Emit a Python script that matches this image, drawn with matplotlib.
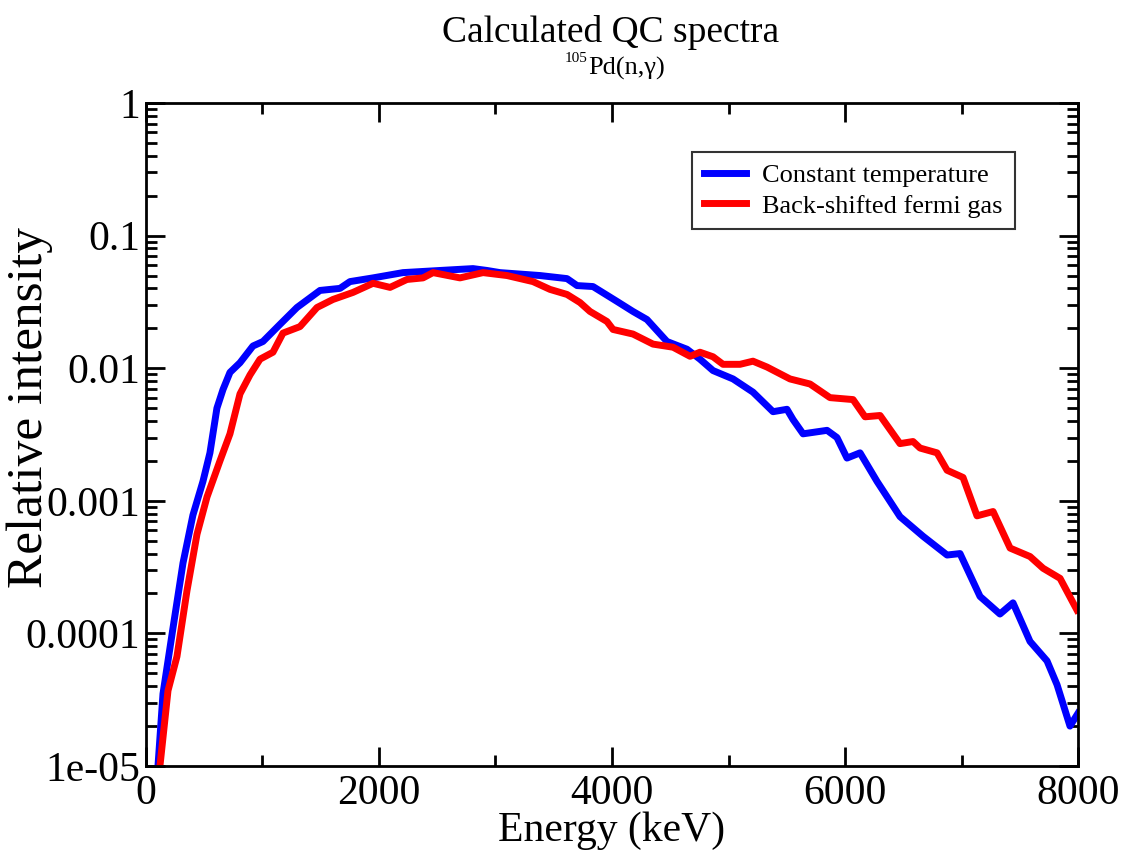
import numpy as np
import matplotlib
matplotlib.use('Agg')
import matplotlib.pyplot as plt
from matplotlib.ticker import FixedLocator, NullFormatter

plt.rcParams['font.family'] = ['Liberation Serif', 'DejaVu Serif']

# Constant temperature level density
ct_energy = [103, 146, 232, 318, 403, 489, 549, 609, 661, 721, 807, 918, 1004, 1150,
             1296, 1494, 1665, 1751, 1949, 2206, 2524, 2807, 2927, 3039, 3382, 3614,
             3700, 3837, 4043, 4180, 4300, 4472, 4644, 4755, 4867, 5039, 5210, 5331,
             5382, 5502, 5554, 5640, 5846, 5931, 6017, 6129, 6275, 6472, 6670, 6876,
             6987, 7159, 7330, 7442, 7588, 7734, 7820, 7931, 8000]
ct_intensity = [1.0e-5, 3.5e-5, 1.1e-4, 3.4e-4, 7.8e-4, 1.4e-3, 2.3e-3, 5.0e-3, 6.9e-3,
                9.3e-3, 0.011, 0.0147, 0.0159, 0.0214, 0.0287, 0.0386, 0.040, 0.045,
                0.048, 0.0526, 0.0546, 0.0564, 0.0546, 0.0526, 0.050, 0.0474, 0.042,
                0.0413, 0.0319, 0.0268, 0.0233, 0.0159, 0.0139, 0.0117, 0.0096, 0.0083,
                0.0066, 0.0052, 0.0047, 0.0049, 0.0041, 0.0032, 0.0034, 0.0030, 0.0021,
                0.0023, 0.0014, 7.6e-4, 5.4e-4, 3.9e-4, 4.0e-4, 1.9e-4, 1.4e-4, 1.7e-4,
                8.7e-5, 6.2e-5, 4.1e-5, 2.0e-5, 2.5e-5]

# Back-shifted fermi gas level density
bsfg_energy = [120, 189, 266, 352, 438, 524, 635, 721, 807, 893, 979, 1090, 1176, 1322,
               1468, 1605, 1777, 1949, 2095, 2240, 2378, 2464, 2695, 2893, 3099, 3322,
               3468, 3614, 3725, 3811, 3957, 4009, 4180, 4352, 4524, 4670, 4755, 4867,
               4953, 5099, 5210, 5331, 5528, 5700, 5871, 6069, 6172, 6301, 6472, 6584,
               6644, 6790, 6876, 7013, 7133, 7271, 7417, 7588, 7700, 7846, 7991]
bsfg_intensity = [1.0e-5, 3.7e-5, 6.7e-5, 2.1e-4, 5.6e-4, 1.07e-3, 2.0e-3, 3.2e-3, 6.4e-3,
                  8.9e-3, 0.0117, 0.0132, 0.0184, 0.0206, 0.0287, 0.033, 0.0373, 0.0437,
                  0.0407, 0.0467, 0.048, 0.0526, 0.048, 0.0526, 0.050, 0.045, 0.0393,
                  0.036, 0.0313, 0.0268, 0.0225, 0.0196, 0.0181, 0.0152, 0.0144, 0.0123,
                  0.0132, 0.0122, 0.0107, 0.0107, 0.0113, 0.0102, 0.0083, 0.0076, 0.0060,
                  0.0058, 0.0043, 0.0044, 0.0027, 0.0028, 0.0025, 0.0023, 0.0017, 0.0015,
                  7.7e-4, 8.3e-4, 4.4e-4, 3.8e-4, 3.1e-4, 2.6e-4, 1.5e-4]

x_ticks = [0, 2000, 4000, 6000, 8000]
y_ticks = [1e-5, 1e-4, 1e-3, 1e-2, 1e-1, 1]
y_tick_labels = ['1e-05', '0.0001', '0.001', '0.01', '0.1', '1']

fig = plt.figure(figsize=(11.22, 8.55), dpi=100)
ax = fig.add_axes([0.1301, 0.1041, 0.8307, 0.7754])

ax.plot(ct_energy, ct_intensity, color='#0000ff', lw=5, label='Constant temperature')
ax.plot(bsfg_energy, bsfg_intensity, color='#ff0000', lw=5, label='Back-shifted fermi gas')

ax.set_yscale('log')
ax.set_xlim(0, 8000)
ax.set_ylim(1e-5, 1)

ax.set_xticks(x_ticks)
ax.set_xticklabels([str(t) for t in x_ticks])
ax.xaxis.set_minor_locator(FixedLocator([1000, 3000, 5000, 7000]))
ax.set_yticks(y_ticks)
ax.set_yticklabels(y_tick_labels)
minor_y = [m * 10.0 ** d for d in range(-5, 0) for m in range(2, 10)]
ax.yaxis.set_minor_locator(FixedLocator(minor_y))
ax.yaxis.set_minor_formatter(NullFormatter())

ax.tick_params(which='both', direction='in', top=True, right=True, width=2)
ax.tick_params(which='major', length=14, labelsize=30)
ax.tick_params(axis='x', which='major', pad=6)
ax.tick_params(axis='y', which='major', pad=4)
ax.tick_params(which='minor', length=8)
for s in ax.spines.values():
    s.set_linewidth(2)

ax.set_xlabel('Energy (keV)', fontsize=30)
ax.xaxis.set_label_coords(0.5, -0.098)
ax.xaxis.label.set_va('center')
ax.set_ylabel('Relative intensity', fontsize=37)
ax.yaxis.set_label_coords(-0.10, 0.541)

fig.text(0.5446, 1 - 42 / 855, 'Calculated QC spectra', fontsize=27,
         ha='center', va='baseline')
fig.text(588 / 1122, 1 - 75 / 855, 'Pd(n,γ)', fontsize=19, ha='left', va='baseline')
fig.text(588 / 1122, 1 - 62 / 855, '105', fontsize=11, ha='right', va='baseline')

leg = ax.legend(loc='upper right', bbox_to_anchor=(0.932, 0.926), fontsize=19,
                frameon=True, fancybox=False, handlelength=1.6, borderpad=0.45,
                labelspacing=0.25, handletextpad=0.6, borderaxespad=0)
leg.get_frame().set_edgecolor('black')
leg.get_frame().set_linewidth(1.5)

fig.savefig('out.png', dpi=100)
